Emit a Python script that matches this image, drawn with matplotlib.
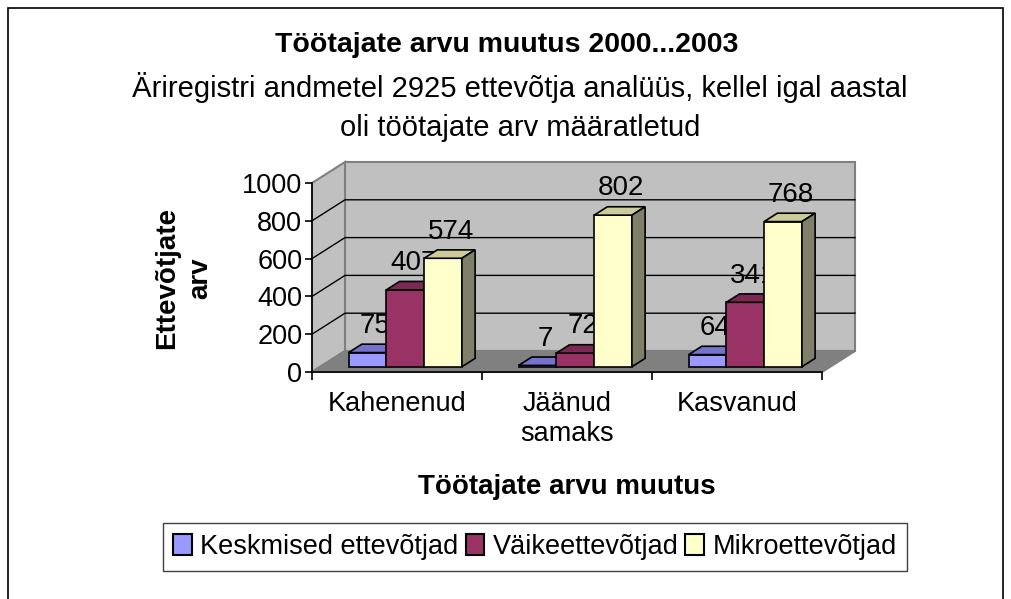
#!/usr/bin/env python3
"""Töötajate arvu muutus 2000...2003 - Excel-style 3D column chart."""

import matplotlib
matplotlib.use("Agg")
import matplotlib.pyplot as plt
from matplotlib.patches import Polygon, Patch, Rectangle
import numpy as np

plt.rcParams["font.family"] = ["Liberation Sans", "DejaVu Sans"]

categories = ["Kahenenud", "Jäänud\nsamaks", "Kasvanud"]
series_names = ["Keskmised ettevõtjad", "Väikeettevõtjad", "Mikroettevõtjad"]
keskmised = [75, 7, 64]
vaikeettevotjad = [407, 72, 341]
mikroettevotjad = [574, 802, 768]
y_ticks = [0, 200, 400, 600, 800, 1000]

front_colors = ["#9999FF", "#993366", "#FFFFCC"]
top_colors = ["#7373CC", "#7A2952", "#CCCC99"]
side_colors = ["#4D4D80", "#4D1A33", "#80806A"]

W, H = 1011, 599
fig = plt.figure(figsize=(W / 100, H / 100), dpi=100)

# front plane of the plot: x 312..822 px, value 0 at y=372 px, 1000 at y=183 px
ax = fig.add_axes([312 / W, (H - 372) / H, 510 / W, 189 / H])
ax.set_xlim(0, 3)
ax.set_ylim(0, 1000)
ax.patch.set_visible(False)

# depth of the 3D box in data units (33 px right, 21 px up)
DX = 33 / 170
DY = 21 / 0.189
WALL = "#C0C0C0"
FLOOR = "#808080"
BORDER = "#808080"

ymax = y_ticks[-1]
ncat = len(categories)
ax.add_patch(Polygon([(DX, DY), (ncat + DX, DY), (ncat + DX, ymax + DY), (DX, ymax + DY)],
                     closed=True, facecolor=WALL, edgecolor=BORDER, lw=1.5, zorder=0.5, clip_on=False))
ax.add_patch(Polygon([(0, 0), (DX, DY), (DX, ymax + DY), (0, ymax)],
                     closed=True, facecolor=WALL, edgecolor=BORDER, lw=1.5, zorder=0.5, clip_on=False))
ax.add_patch(Polygon([(0, 0), (ncat, 0), (ncat + DX, DY), (DX, DY)],
                     closed=True, facecolor=FLOOR, edgecolor=BORDER, lw=1.5, zorder=0.5, clip_on=False))
for v in y_ticks[1:-1]:
    ax.plot([0, DX, ncat + DX], [v, v + DY, v + DY], color="black", lw=1, zorder=0.6, clip_on=False)

# bars: gap width 150% -> 3 bars + 1.5 gap per category
w = 1 / 4.5
fx, fy = 0.25 * DX, 0.25 * DY
bx, by = 0.4 * DX, 0.4 * DY
all_values = [keskmised, vaikeettevotjad, mikroettevotjad]
for i in range(ncat):
    for j, vals in enumerate(all_values):
        v = vals[i]
        x0 = i + 0.75 * w + j * w + fx
        z = 2 + j
        ax.bar(x0, v, width=w, bottom=fy, align="edge", color=front_colors[j],
               edgecolor="black", lw=1.2, zorder=z, clip_on=False)
        top = fy + v
        ax.add_patch(Polygon([(x0, top), (x0 + w, top), (x0 + w + bx, top + by), (x0 + bx, top + by)],
                             closed=True, facecolor=top_colors[j], edgecolor="black", lw=1.2,
                             zorder=z, clip_on=False))
        ax.add_patch(Polygon([(x0 + w, fy), (x0 + w + bx, fy + by), (x0 + w + bx, top + by), (x0 + w, top)],
                             closed=True, facecolor=side_colors[j], edgecolor="black", lw=1.2,
                             zorder=z, clip_on=False))
        ax.text(x0 + w / 2 + bx * 0.6, top + by + 60, str(v), ha="center", va="baseline",
                fontsize=20, zorder=z + 0.5, clip_on=False)

for side in ("top", "right"):
    ax.spines[side].set_visible(False)
for side in ("left", "bottom"):
    ax.spines[side].set_color("black")
    ax.spines[side].set_linewidth(1.2)

ax.set_yticks(y_ticks)
ax.set_yticklabels([str(t) for t in y_ticks])
ax.tick_params(axis="y", direction="out", length=5, width=1.2, pad=2, labelsize=19.5)
ax.set_xticks(np.arange(ncat + 1))
ax.set_xticklabels([])
ax.tick_params(axis="x", which="major", direction="out", length=6, width=1.2)
ax.set_xticks(np.arange(ncat) + 0.5, minor=True)
ax.set_xticklabels(categories, minor=True, linespacing=1.2)
ax.tick_params(axis="x", which="minor", length=0, pad=14, labelsize=19.5)

fig.text(507 / W, 1 - 45 / H, "Töötajate arvu muutus 2000...2003", ha="center", va="center",
         fontsize=20.5, fontweight="bold")
fig.text(520 / W, 1 - 107 / H,
         "Äriregistri andmetel 2925 ettevõtja analüüs, kellel igal aastal\noli töötajate arv määratletud",
         ha="center", va="center", fontsize=21, linespacing=1.5)
fig.text(567 / W, 1 - 487 / H, "Töötajate arvu muutus", ha="center", va="center",
         fontsize=20, fontweight="bold")
fig.text(184 / W, 1 - 278 / H, "Ettevõtjate\narv", ha="center", va="center", rotation=90,
         fontsize=20, fontweight="bold", linespacing=1.35)

handles = [Patch(facecolor=c, edgecolor="black", lw=1.5) for c in front_colors]
leg = fig.legend(handles, series_names, loc="center", bbox_to_anchor=(535 / W, 1 - 547 / H),
                 ncol=3, fontsize=19.5, handlelength=0.7, handleheight=0.8, handletextpad=0.3,
                 columnspacing=0.25, borderpad=0.4, fancybox=False, framealpha=1)
leg.get_frame().set_edgecolor("#404040")
leg.get_frame().set_linewidth(1)

fig.add_artist(Rectangle((8 / W, -0.1), 995 / W, 1.1 - 8 / H, transform=fig.transFigure,
                         fill=False, edgecolor="black", lw=1.2))

fig.savefig("out.png", dpi=100)
